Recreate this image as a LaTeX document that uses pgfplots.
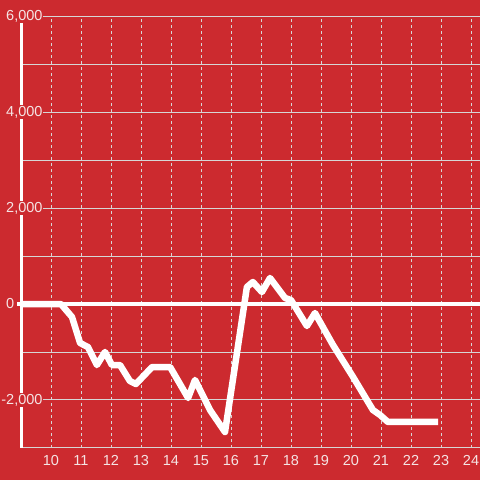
\documentclass[border=0pt]{standalone}
\usepackage{pgfplots}
\pgfplotsset{compat=1.18}
\usepackage{fontspec}
\setmainfont{Liberation Sans}
\definecolor{bgred}{RGB}{204,42,47}
\definecolor{gridc}{RGB}{214,214,214}
\definecolor{labc}{RGB}{245,228,228}
\pagecolor{bgred}
\pgfplotsset{
  layers/labels on top/.define layer set={
    axis background,axis grid,axis ticks,axis lines,pre main,main,axis tick labels,axis descriptions,axis foreground
  }{/pgfplots/layers/standard},
}

\begin{document}
\begin{tikzpicture}
\begin{axis}[
  set layers=labels on top,
  at={(21pt,32pt)}, anchor=south west,
  scale only axis, width=459pt, height=432pt,
  xmin=9, xmax=24.3, ymin=-3000, ymax=6000,
  axis line style={draw=none},
  major tick length=0pt, minor tick length=0pt,
  xtick={10,...,24},
  ytick={-2000,0,2000,4000,6000},
  yticklabels={{\llap{-}2,000},{0},{2,000},{4,000},{6,000}},
  minor ytick={-3000,-1000,1000,3000,5000},
  xmajorgrids, ymajorgrids, yminorgrids,
  major x grid style={gridc, line width=1pt, dash pattern=on 3pt off 3pt},
  major y grid style={gridc, line width=1pt},
  minor y grid style={gridc, line width=1pt},
  ticklabel style={font=\fontsize{14.5}{14.5}\selectfont, text=labc},
  yticklabel style={anchor=west, xshift=-16pt, fill=bgred, inner sep=1pt},
  xticklabel style={yshift=-3.5pt},
  /pgf/number format/assume math mode=true,
  clip=false,
]
% left axis line and zero line
\draw[white, line width=3pt] (axis cs:9,-3000) -- (axis cs:9,6000);
\draw[white, line width=4pt] ([xshift=-4pt]axis cs:9,0) -- (axis cs:24.3,0);

\addplot[white, line width=6.5pt, line join=round] coordinates {
  (9.00,0) (10.33,0) (10.70,-271) (10.97,-813) (11.23,-896) (11.53,-1271)
  (11.80,-1000) (12.03,-1271) (12.30,-1271) (12.63,-1604) (12.83,-1667)
  (13.37,-1313) (13.97,-1313) (14.57,-1958) (14.80,-1583) (15.30,-2208)
  (15.80,-2667) (16.53,354) (16.73,458) (17.03,250) (17.30,542)
  (17.80,125) (18.00,83) (18.53,-458) (18.80,-188) (19.40,-854)
  (20.07,-1521) (20.73,-2208) (20.97,-2313) (21.23,-2458) (22.90,-2458)
};
\end{axis}
\pgfresetboundingbox
\path (0,0) rectangle (480pt,480pt);
\end{tikzpicture}
\end{document}
